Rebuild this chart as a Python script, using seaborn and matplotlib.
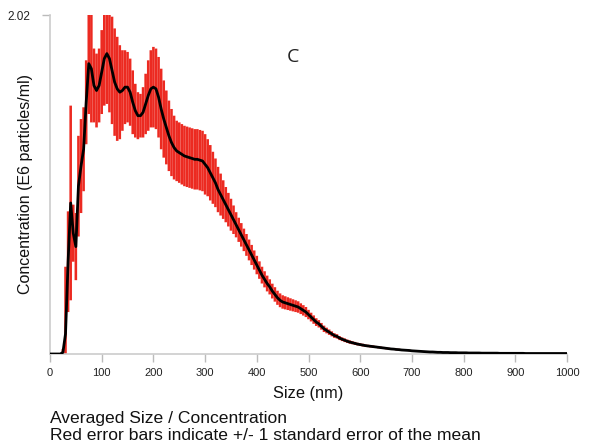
import numpy as np
import pandas as pd
import matplotlib
matplotlib.use("Agg")
import matplotlib.pyplot as plt
import seaborn as sns

# Size bins (nm), 5 nm step
size_nm = list(range(0, 1005, 5))

# Mean concentration (E6 particles/ml) per bin
mean_conc = [
    0, 0, 0, 0, 0, 0.01, 0.12, 0.55, 0.90, 0.72,          # 0-45
    0.64, 1.00, 1.12, 1.22, 1.50, 1.73, 1.70, 1.60, 1.57, 1.60,   # 50-95
    1.68, 1.76, 1.79, 1.76, 1.69, 1.62, 1.58, 1.56, 1.57, 1.59,   # 100-145
    1.59, 1.56, 1.50, 1.45, 1.42, 1.42, 1.44, 1.49, 1.54, 1.58,   # 150-195
    1.59, 1.58, 1.53, 1.46, 1.40, 1.35, 1.30, 1.26, 1.23, 1.21,   # 200-245
    1.20, 1.19, 1.18, 1.175, 1.17, 1.165, 1.16, 1.16, 1.155, 1.15,  # 250-295
    1.13, 1.11, 1.08, 1.05, 1.02, 0.98, 0.95, 0.92, 0.89, 0.86,   # 300-345
    0.83, 0.80, 0.77, 0.74, 0.71, 0.68, 0.65, 0.62, 0.59, 0.56,   # 350-395
    0.53, 0.50, 0.47, 0.445, 0.42, 0.40, 0.375, 0.355, 0.335, 0.32,  # 400-445
    0.31, 0.305, 0.30, 0.295, 0.29, 0.285, 0.28, 0.27, 0.26, 0.25,   # 450-495
    0.235, 0.22, 0.205, 0.19, 0.18, 0.165, 0.15, 0.14, 0.13, 0.12,   # 500-545
    0.11, 0.105, 0.095, 0.088, 0.082, 0.076, 0.071, 0.067, 0.063, 0.059,  # 550-595
    0.056, 0.053, 0.050, 0.048, 0.046, 0.044, 0.042, 0.040, 0.038, 0.036,  # 600-645
    0.034, 0.032, 0.030, 0.029, 0.027, 0.026, 0.024, 0.023, 0.022, 0.021,  # 650-695
    0.019, 0.018, 0.017, 0.016, 0.015, 0.014, 0.013, 0.012, 0.012, 0.011,  # 700-745
    0.010, 0.010, 0.009, 0.009, 0.009, 0.008, 0.008, 0.008, 0.007, 0.007,  # 750-795
    0.007, 0.007, 0.006, 0.006, 0.006, 0.006, 0.006, 0.005, 0.005, 0.005,  # 800-845
    0.005, 0.005, 0.005, 0.005, 0.004, 0.004, 0.004, 0.004, 0.004, 0.004,  # 850-895
    0.004, 0.004, 0.004, 0.004, 0.003, 0.003, 0.003, 0.003, 0.003, 0.003,  # 900-945
    0.003, 0.003, 0.003, 0.003, 0.003, 0.003, 0.003, 0.003, 0.003, 0.003,  # 950-995
    0.003,                                                          # 1000
]

# Standard error of the mean per bin
sem_conc = [
    0, 0, 0, 0, 0, 0.02, 0.40, 0.30, 0.58, 0.17,           # 0-45
    0.20, 0.30, 0.28, 0.25, 0.25, 0.30, 0.32, 0.22, 0.22, 0.22,   # 50-95
    0.25, 0.28, 0.30, 0.32, 0.32, 0.32, 0.31, 0.28, 0.24, 0.22,   # 100-145
    0.21, 0.20, 0.19, 0.16, 0.14, 0.13, 0.15, 0.18, 0.21, 0.23,   # 150-195
    0.24, 0.24, 0.24, 0.24, 0.23, 0.22, 0.21, 0.20, 0.19, 0.18,   # 200-245
    0.18, 0.18, 0.18, 0.18, 0.18, 0.18, 0.18, 0.18, 0.18, 0.18,   # 250-295
    0.18, 0.17, 0.165, 0.155, 0.145, 0.135, 0.125, 0.115, 0.105, 0.10,   # 300-345
    0.095, 0.085, 0.075, 0.072, 0.07, 0.067, 0.065, 0.062, 0.06, 0.057,  # 350-395
    0.055, 0.052, 0.05, 0.048, 0.047, 0.045, 0.044, 0.043, 0.042, 0.041,  # 400-445
    0.040, 0.039, 0.038, 0.037, 0.036, 0.035, 0.034, 0.032, 0.031, 0.030,  # 450-495
    0.028, 0.026, 0.025, 0.023, 0.022, 0.020, 0.019, 0.017, 0.016, 0.015,  # 500-545
    0.014, 0.013, 0.012, 0.011, 0.011, 0.010, 0.010, 0.009, 0.009, 0.008,  # 550-595
    0.008, 0.008, 0.007, 0.007, 0.007, 0.007, 0.006, 0.006, 0.006, 0.006,  # 600-645
    0.006, 0.005, 0.005, 0.005, 0.005, 0.005, 0.005, 0.004, 0.004, 0.004,  # 650-695
    0.004, 0.004, 0.003, 0.003, 0.003, 0.003, 0.003, 0.003, 0.003, 0.003,  # 700-745
    0.002, 0.002, 0.002, 0.002, 0.002, 0.002, 0.002, 0.002, 0.002, 0.002,  # 750-795
    0.002, 0.002, 0.002, 0.002, 0.002, 0.002, 0.002, 0.002, 0.002, 0.002,  # 800-845
    0.001, 0.001, 0.001, 0.001, 0.001, 0.001, 0.001, 0.001, 0.001, 0.001,  # 850-895
    0.001, 0.001, 0.001, 0.001, 0.001, 0.001, 0.001, 0.001, 0.001, 0.001,  # 900-945
    0.001, 0.001, 0.001, 0.001, 0.001, 0.001, 0.001, 0.001, 0.001, 0.001,  # 950-995
    0.001,
]

x_ticks = [0, 100, 200, 300, 400, 500, 600, 700, 800, 900, 1000]
y_max = 2.02

df = pd.DataFrame({"size": size_nm, "conc": mean_conc, "sem": sem_conc})

sns.set_theme(style="white")
plt.rcParams["font.family"] = ["Liberation Sans", "DejaVu Sans"]

fig = plt.figure(figsize=(5.9, 4.47), dpi=100)
ax = fig.add_axes([50 / 590, 1 - 354 / 447, 517 / 590, 339 / 447])

eb = ax.errorbar(df["size"], df["conc"], yerr=df["sem"], fmt="none",
                 ecolor="#ec2a21", elinewidth=1.85, capsize=0, zorder=2)
for coll in eb.lines[2]:
    coll.set_snap(False)
    coll.set_antialiased(True)
sns.lineplot(data=df, x="size", y="conc", color="black", linewidth=2.0,
             ax=ax, zorder=3)

ax.set_xlim(0, 1000)
ax.set_ylim(0, y_max)
ax.set_xticks(x_ticks)
ax.set_xticklabels([str(t) for t in x_ticks], fontsize=8, color="#222222")
ax.set_yticks([y_max])
ax.set_yticklabels(["2.02"], fontsize=8.5, color="#222222")
ax.tick_params(axis="x", which="both", direction="out", length=6,
               color="#bbbbbb", width=1, bottom=True, pad=4)
ax.tick_params(axis="y", direction="out", length=6, color="#bbbbbb",
               width=1, left=True, pad=8)

for s in ["top", "right"]:
    ax.spines[s].set_visible(False)
for s in ["left", "bottom"]:
    ax.spines[s].set_color("#cccccc")
    ax.spines[s].set_linewidth(1.2)

ax.set_xlabel("Size (nm)", fontsize=11.8, color="#111111", labelpad=6)
ax.set_ylabel("Concentration (E6 particles/ml)", fontsize=11.5,
              color="#111111")
ax.yaxis.set_label_coords(-17 / 517, 0.5)

ax.text(470, 1.77, "C", fontsize=14, color="#222222",
        family=["Open Sans", "DejaVu Sans"], ha="center", va="center")

fig.text(50 / 590, 1 - 418 / 447, "Averaged Size / Concentration",
         fontsize=12.6, color="#111111", va="center", ha="left")
fig.text(50 / 590, 1 - 435 / 447,
         "Red error bars indicate +/- 1 standard error of the mean",
         fontsize=12.6, color="#111111", va="center", ha="left")

fig.savefig("out.png", dpi=100, facecolor="white")
